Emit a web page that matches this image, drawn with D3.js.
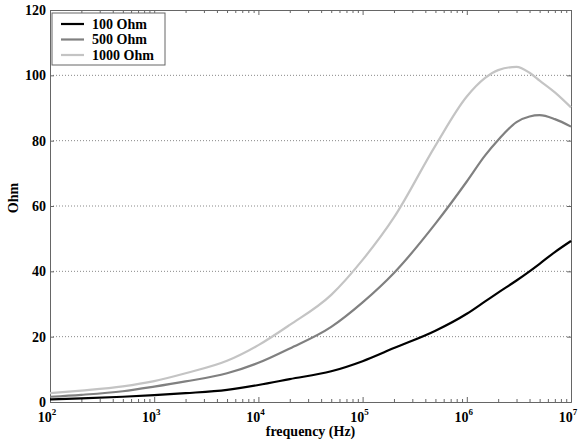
<!DOCTYPE html>
<html>
<head>
<meta charset="utf-8">
<script src="https://cdn.jsdelivr.net/npm/d3@7"></script>
<style>
  body { margin: 0; background: #fff; }
  text { font-family: "Liberation Serif", "Times New Roman", serif; font-weight: bold; fill: #000; }
  .frame line, .frame path { stroke: #666; }
</style>
</head>
<body>
<div id="chart"></div>
<script>
// Data
var freqs = [1e2, 2e2, 5e2, 1e3, 2e3, 5e3, 1e4, 2e4, 5e4, 1e5, 2e5, 5e5, 1e6, 1.5e6, 2e6, 3e6, 4e6, 5e6, 7e6, 1e7];
var ohm100  = [0.8, 1.1, 1.6, 2.1, 2.7, 3.7, 5.2, 7.0, 9.4, 12.5, 16.5, 21.8, 27.0, 30.8, 33.5, 37.2, 40.0, 42.3, 45.9, 49.3];
var ohm500  = [1.6, 2.2, 3.3, 4.7, 6.3, 8.8, 12.0, 16.4, 23.0, 30.5, 39.5, 54.6, 67.5, 75.5, 80.2, 85.7, 87.4, 87.8, 86.6, 84.3];
var ohm1000 = [2.7, 3.5, 4.8, 6.4, 8.8, 12.6, 17.4, 23.6, 32.8, 43.5, 56.5, 78.5, 93.5, 99.2, 101.6, 102.6, 100.8, 98.4, 94.8, 90.2];
var seriesNames = ['100 Ohm', '500 Ohm', '1000 Ohm'];
var seriesColors = ['#000000', '#808080', '#c4c4c4'];
var yTicks = [0, 20, 40, 60, 80, 100, 120];
var xDecades = [2, 3, 4, 5, 6, 7];

var width = 579;
var height = 443;
var plotLeft = 50, plotRight = 571, plotTop = 10, plotBottom = 402;

var svg = d3.select('#chart').append('svg')
  .attr('width', width)
  .attr('height', height);

var x = d3.scaleLog().domain([1e2, 1e7]).range([plotLeft, plotRight]);
var y = d3.scaleLinear().domain([0, 120]).range([plotBottom, plotTop]);

// horizontal dotted grid
svg.append('g')
  .selectAll('line')
  .data(yTicks.slice(1, -1))
  .enter().append('line')
  .attr('x1', plotLeft).attr('x2', plotRight)
  .attr('y1', function(d) { return y(d); })
  .attr('y2', function(d) { return y(d); })
  .attr('stroke', '#888')
  .attr('stroke-width', 1)
  .attr('stroke-dasharray', '1,2');

// minor ticks on the log axis
var minor = [];
for (var e = 2; e < 7; e++) {
  for (var m = 2; m < 10; m++) minor.push(m * Math.pow(10, e));
}
var major = xDecades.map(function(d) { return Math.pow(10, d); });

var frame = svg.append('g').attr('class', 'frame');

frame.append('g')
  .attr('transform', 'translate(0,' + plotBottom + ')')
  .call(d3.axisTop(x).tickValues(minor).tickSizeInner(3).tickSizeOuter(0).tickFormat(''));
frame.append('g')
  .attr('transform', 'translate(0,' + plotTop + ')')
  .call(d3.axisBottom(x).tickValues(minor).tickSizeInner(3).tickSizeOuter(0).tickFormat(''));
frame.append('g')
  .attr('transform', 'translate(0,' + plotBottom + ')')
  .call(d3.axisTop(x).tickValues(major).tickSizeInner(5).tickSizeOuter(0).tickFormat(''));
frame.append('g')
  .attr('transform', 'translate(0,' + plotTop + ')')
  .call(d3.axisBottom(x).tickValues(major).tickSizeInner(5).tickSizeOuter(0).tickFormat(''));
frame.append('g')
  .attr('transform', 'translate(' + plotLeft + ',0)')
  .call(d3.axisRight(y).tickValues(yTicks).tickSizeInner(4).tickSizeOuter(0).tickFormat(''));
frame.append('g')
  .attr('transform', 'translate(' + plotRight + ',0)')
  .call(d3.axisLeft(y).tickValues(yTicks).tickSizeInner(4).tickSizeOuter(0).tickFormat(''));
frame.selectAll('path.domain').attr('stroke', '#666');

// y tick labels
svg.append('g')
  .selectAll('text')
  .data(yTicks)
  .enter().append('text')
  .attr('x', plotLeft - 4)
  .attr('y', function(d) { return y(d); })
  .attr('dy', '0.35em')
  .attr('text-anchor', 'end')
  .style('font-size', '14px')
  .text(function(d) { return d; });

// x tick labels 10^n
var xl = svg.append('g')
  .selectAll('text')
  .data(xDecades)
  .enter().append('text')
  .attr('x', function(d) { return x(Math.pow(10, d)) - 3; })
  .attr('y', 422)
  .attr('text-anchor', 'middle')
  .style('font-size', '14px');
xl.append('tspan').text('10');
xl.append('tspan')
  .attr('dy', -7)
  .style('font-size', '9px')
  .text(function(d) { return d; });

// axis titles
svg.append('text')
  .attr('x', (plotLeft + plotRight) / 2)
  .attr('y', 436)
  .attr('text-anchor', 'middle')
  .style('font-size', '14px')
  .text('frequency (Hz)');
svg.append('text')
  .attr('transform', 'translate(18,' + 198 + ') rotate(-90)')
  .attr('text-anchor', 'middle')
  .style('font-size', '14px')
  .text('Ohm');

// curves
var series = [ohm100, ohm500, ohm1000];
var line = d3.line()
  .x(function(d, i) { return x(freqs[i]); })
  .y(function(d) { return y(d); })
  .curve(d3.curveMonotoneX);

svg.append('g')
  .selectAll('path')
  .data(series)
  .enter().append('path')
  .attr('d', line)
  .attr('fill', 'none')
  .attr('stroke', function(d, i) { return seriesColors[i]; })
  .attr('stroke-width', 2.2);

// legend
var lg = svg.append('g');
lg.append('rect')
  .attr('x', 52).attr('y', 13)
  .attr('width', 113).attr('height', 52)
  .attr('fill', '#fff')
  .attr('stroke', '#666');
var rows = lg.selectAll('g')
  .data(seriesNames)
  .enter().append('g')
  .attr('transform', function(d, i) { return 'translate(0,' + (24 + i * 15.5) + ')'; });
rows.append('line')
  .attr('x1', 61).attr('x2', 84)
  .attr('stroke', function(d, i) { return seriesColors[i]; })
  .attr('stroke-width', 2.2);
rows.append('text')
  .attr('x', 92)
  .attr('dy', '0.35em')
  .style('font-size', '14px')
  .text(function(d) { return d; });
</script>
</body>
</html>
